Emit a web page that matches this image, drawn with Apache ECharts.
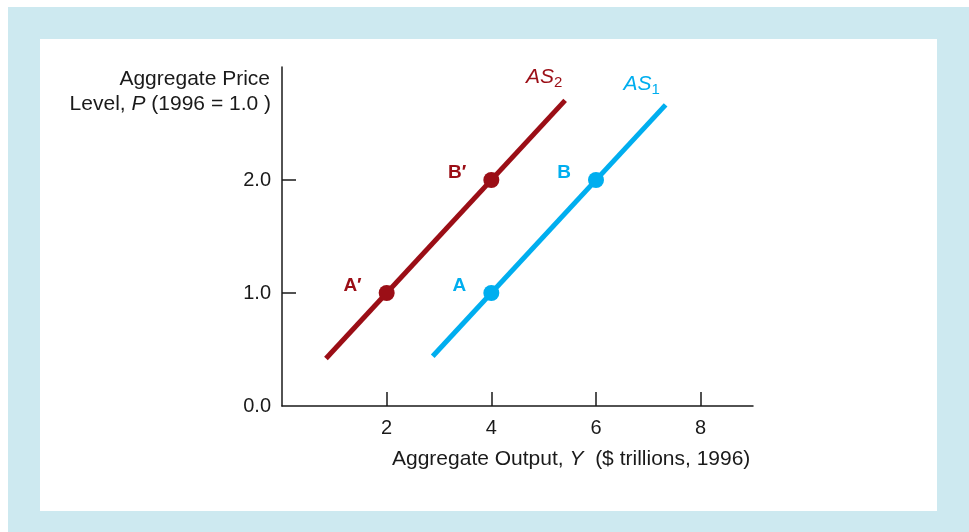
<!DOCTYPE html>
<html><head><meta charset="utf-8">
<script src="https://cdn.jsdelivr.net/npm/echarts@6/dist/echarts.min.js"></script>
<style>html,body{margin:0;padding:0;background:#fff}#c{width:969px;height:532px}</style>
</head><body><div id="c"></div>
<script>
// Data
const xTicks = [2, 4, 6, 8];
const yTicks = [0, 1, 2];
const yTickLabels = ['0.0', '1.0', '2.0'];
const as1Line = [[2.88, 0.44], [7.33, 2.665]];
const as2Line = [[0.84, 0.42], [5.41, 2.705]];
const as1Points = [[4, 1, 'A'], [6, 2, 'B']];
const as2Points = [[2, 1, 'A\u2032'], [4, 2, 'B\u2032']];
const curveNames = ['AS1', 'AS2'];

const RED = '#9b0e16', BLUE = '#00aeef', INK = '#1a1a1a';
const FONT = '"Liberation Sans", Arial, sans-serif';
const FS = 20, TFS = 21;
const chart = echarts.init(document.getElementById('c'), null, {renderer: 'canvas'});

function pointSeries(data, color) {
  return {
    type: 'scatter', data: data, symbolSize: 16, z: 5,
    itemStyle: {color: color, opacity: 1},
    label: {show: true, position: 'left', distance: 17, offset: [0, -7],
      formatter: p => p.data[2], color: color, fontWeight: 'bold', fontSize: 19, fontFamily: FONT},
    emphasis: {disabled: true}
  };
}
function curveLabel(name, color, endPt, off) {
  return {
    type: 'scatter', data: [endPt], symbolSize: 1, silent: true,
    itemStyle: {opacity: 0},
    label: {show: true, position: 'inside', offset: off, opacity: 1,
      formatter: '{i|' + name.slice(0, 2) + '}{s|' + name.slice(2) + '}',
      rich: {
        i: {fontStyle: 'italic', fontSize: 21, color: color, fontFamily: FONT, lineHeight: 26},
        s: {fontSize: 15, color: color, fontFamily: FONT, lineHeight: 26, padding: [12, 0, 0, 0]}
      }},
    emphasis: {disabled: true}
  };
}
const rich = {n: {fontSize: TFS, fontFamily: FONT, fill: INK}, i: {fontSize: TFS, fontStyle: 'italic', fontFamily: FONT, fill: INK}};

chart.setOption({
  animation: false,
  graphic: [
    {type: 'rect', shape: {x: 8, y: 7, width: 961, height: 525}, style: {fill: '#cde9f0'}, z: -10},
    {type: 'rect', shape: {x: 40, y: 39, width: 897, height: 472}, style: {fill: '#ffffff'}, z: -9},
    {type: 'text', right: 969 - 270, top: 69, z: 10,
      style: {text: 'Aggregate Price', fontSize: TFS, fontFamily: FONT, fill: INK}},
    {type: 'text', right: 969 - 271, top: 94, z: 10,
      style: {text: '{n|Level, }{i|P}{n| (1996 = 1.0 )}', fontSize: TFS, fontFamily: FONT, fill: INK, rich: rich}},
    {type: 'text', left: 392, top: 449, z: 10,
      style: {text: '{n|Aggregate Output, }{i|Y}{n|  ($ trillions, 1996)}', fontSize: TFS, fontFamily: FONT, fill: INK, rich: rich}}
  ],
  grid: {left: 282, right: 216, top: 67, bottom: 126},
  xAxis: {
    type: 'value', min: 0, max: 9,
    axisLine: {lineStyle: {color: INK, width: 1.5}},
    axisTick: {inside: true, length: 14, customValues: xTicks, lineStyle: {color: INK, width: 1.5}},
    axisLabel: {customValues: xTicks, color: INK, fontSize: FS, fontFamily: FONT, margin: 12},
    splitLine: {show: false}
  },
  yAxis: {
    type: 'value', min: 0, max: 3,
    axisLine: {show: true, lineStyle: {color: INK, width: 1.5}},
    axisTick: {show: true, inside: true, length: 14, customValues: [1, 2], lineStyle: {color: INK, width: 1.5}},
    axisLabel: {customValues: yTicks, formatter: v => yTickLabels[yTicks.indexOf(v)], color: INK, fontSize: FS, fontFamily: FONT, margin: 11},
    splitLine: {show: false}
  },
  series: [
    {type: 'line', data: as2Line, symbol: 'none', lineStyle: {color: RED, width: 5}, z: 3},
    {type: 'line', data: as1Line, symbol: 'none', lineStyle: {color: BLUE, width: 5}, z: 3},
    pointSeries(as2Points, RED),
    pointSeries(as1Points, BLUE),
    curveLabel(curveNames[1], RED, as2Line[1], [-21, -23]),
    curveLabel(curveNames[0], BLUE, as1Line[1], [-24, -21])
  ]
});
</script></body></html>
